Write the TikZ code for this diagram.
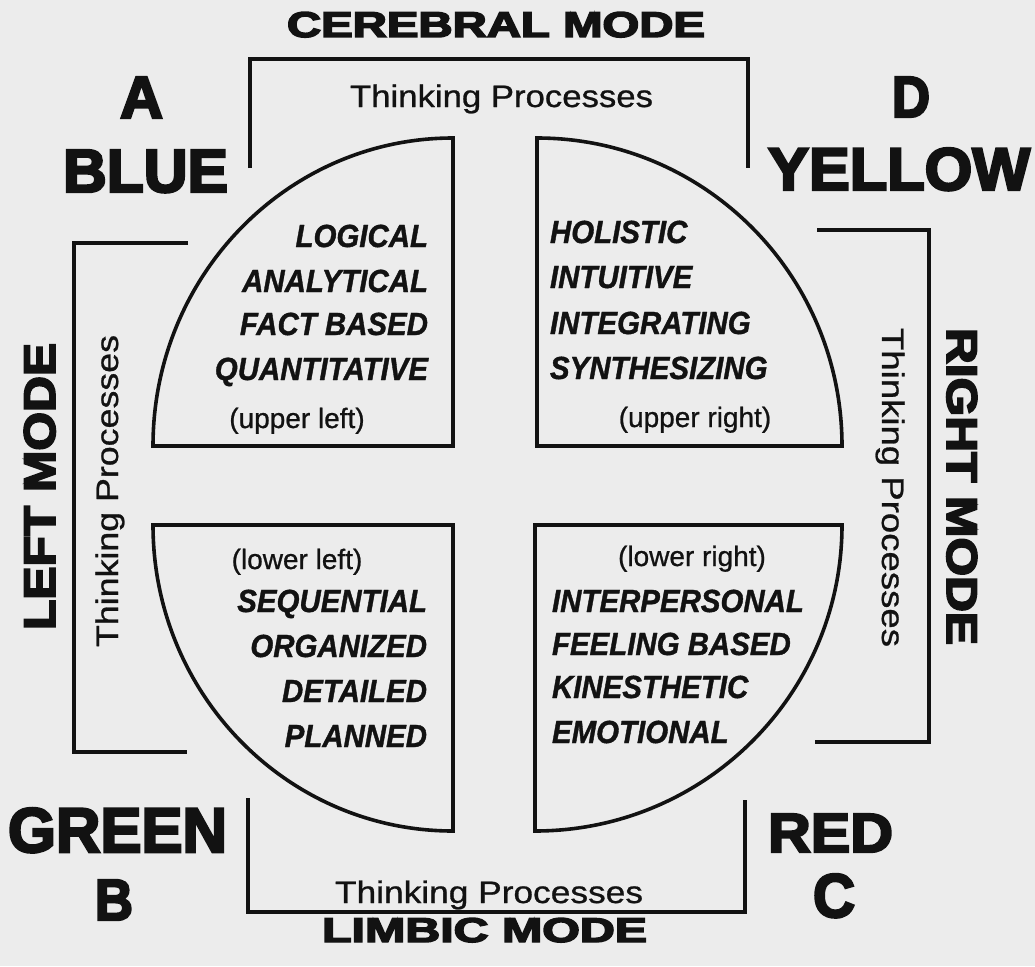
\documentclass[tikz,border=0pt]{standalone}
\usepackage{fontspec}
\setmainfont{Liberation Sans}[FakeBold=0.8]
\newfontfamily\heavy{Liberation Sans Bold}[FakeBold=4]
\newfontfamily\itemfont{Liberation Sans Bold Italic}[FakeBold=1.2]
\definecolor{bg}{RGB}{236,236,236}
\definecolor{ink}{RGB}{18,18,18}
\newcommand{\fitbox}[3]{\resizebox{#1pt}{#2pt}{#3}}
\begin{document}
\begin{tikzpicture}[x=1pt,y=1pt,
  lbl/.style={inner sep=0pt, outer sep=0pt, anchor=base west, text=ink},
  quad/.style={draw=ink, line width=3.6pt, line join=miter},
  brk/.style={draw=ink, line width=3.6pt},
  itemR/.style={inner sep=0pt, outer sep=0pt, anchor=base east, text=ink, font=\itemfont\fontsize{32}{32}\selectfont},
  itemL/.style={inner sep=0pt, outer sep=0pt, anchor=base west, text=ink, font=\itemfont\fontsize{32}{32}\selectfont},
  qpos/.style={inner sep=0pt, outer sep=0pt, anchor=base, text=ink, font=\fontsize{28}{28}\selectfont}]
\fill[bg] (0,0) rectangle (1035,-966);
\useasboundingbox (0,0) rectangle (1035,-966);

% quadrants
\draw[quad] (453,-446) -- (153,-446) arc[start angle=180, end angle=90, x radius=300, y radius=308] -- cycle;
\draw[quad] (537,-446) -- (537,-138) arc[start angle=90, end angle=0, x radius=305, y radius=308] -- cycle;
\draw[quad] (453,-525) -- (153,-525) arc[start angle=180, end angle=270, x radius=300, y radius=306] -- cycle;
\draw[quad] (535,-525) -- (842,-525) arc[start angle=0, end angle=-90, x radius=307, y radius=306] -- cycle;

% brackets
\draw[brk] (250,-168) -- (250,-59) -- (748,-59) -- (748,-168);
\draw[brk] (188,-243) -- (74,-243) -- (74,-752) -- (187,-752);
\draw[brk] (817,-230) -- (929,-230) -- (929,-742) -- (815,-742);
\draw[brk] (248,-798) -- (248,-912) -- (745,-912) -- (745,-800);

% mode titles
\node[lbl] (cer) at (287,-37) {\fitbox{418}{25}{\heavy CEREBRAL MODE}};
\node[lbl] (lim) at (322,-942) {\fitbox{325}{24}{\heavy LIMBIC MODE}};
\node[lbl, rotate=90] (lft) at (55,-630) {\fitbox{287}{31}{\heavy LEFT MODE}};
\node[lbl, rotate=-90] (rgt) at (947,-328) {\fitbox{317}{30}{\heavy RIGHT MODE}};

% colour letters
\node[lbl] (A) at (120,-118) {\fitbox{43}{41}{\heavy A}};
\node[lbl] (blue) at (63,-192) {\fitbox{165}{42}{\heavy BLUE}};
\node[lbl] (D) at (892,-117) {\fitbox{38}{40}{\heavy D}};
\node[lbl] (yellow) at (768,-190) {\fitbox{262}{42}{\heavy YELLOW}};
\node[lbl] (green) at (8,-852) {\fitbox{219}{44}{\heavy GREEN}};
\node[lbl] (B) at (95,-920) {\fitbox{38}{40}{\heavy B}};
\node[lbl] (red) at (768,-852) {\fitbox{125}{38}{\heavy RED}};
\node[lbl] (C) at (813,-917) {\fitbox{42}{43}{\heavy C}};

% thinking processes
\node[lbl] (tpt) at (350,-107) {\fitbox{303}{22.5}{Thinking Processes}};
\node[lbl] (tpb) at (335,-903) {\fitbox{308}{22.5}{Thinking Processes}};
\node[lbl, rotate=90] (tpl) at (118,-647) {\fitbox{312}{22.5}{Thinking Processes}};
\node[lbl, rotate=-90] (tpr) at (882,-328) {\fitbox{319}{22.5}{Thinking Processes}};

% upper left
\node[itemR] (ul1) at (428,-247) {\scalebox{0.92}[1]{LOGICAL}};
\node[itemR] (ul2) at (428,-292) {\scalebox{0.92}[1]{ANALYTICAL}};
\node[itemR] (ul3) at (428,-335) {\scalebox{0.92}[1]{FACT BASED}};
\node[itemR] (ul4) at (428,-380) {\scalebox{0.92}[1]{QUANTITATIVE}};
\node[qpos] (ul5) at (297,-428) {(upper left)};

% upper right
\node[itemL] (ur1) at (550,-243) {\scalebox{0.92}[1]{HOLISTIC}};
\node[itemL] (ur2) at (550,-288) {\scalebox{0.92}[1]{INTUITIVE}};
\node[itemL] (ur3) at (550,-334) {\scalebox{0.92}[1]{INTEGRATING}};
\node[itemL] (ur4) at (550,-379) {\scalebox{0.92}[1]{SYNTHESIZING}};
\node[qpos] (ur5) at (695,-427) {(upper right)};

% lower left
\node[qpos] (ll0) at (297,-569) {(lower left)};
\node[itemR] (ll1) at (427,-612) {\scalebox{0.92}[1]{SEQUENTIAL}};
\node[itemR] (ll2) at (427,-657) {\scalebox{0.92}[1]{ORGANIZED}};
\node[itemR] (ll3) at (427,-702) {\scalebox{0.92}[1]{DETAILED}};
\node[itemR] (ll4) at (427,-747) {\scalebox{0.92}[1]{PLANNED}};

% lower right
\node[qpos] (lr0) at (692,-566) {(lower right)};
\node[itemL] (lr1) at (552,-612) {\scalebox{0.92}[1]{INTERPERSONAL}};
\node[itemL] (lr2) at (552,-655) {\scalebox{0.92}[1]{FEELING BASED}};
\node[itemL] (lr3) at (552,-698) {\scalebox{0.92}[1]{KINESTHETIC}};
\node[itemL] (lr4) at (552,-743) {\scalebox{0.92}[1]{EMOTIONAL}};
\end{tikzpicture}
\end{document}
